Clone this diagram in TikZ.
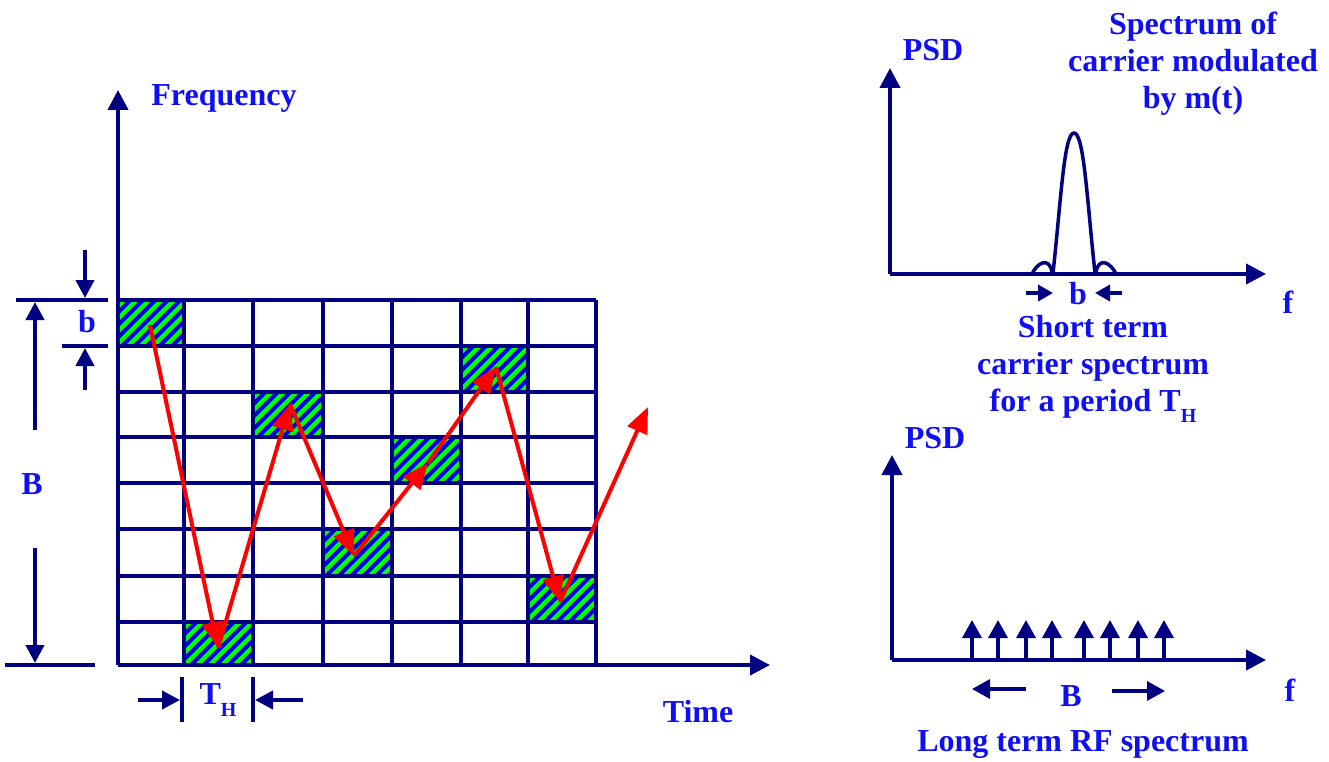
\documentclass[tikz,border=0pt]{standalone}
\usepackage{fontspec}
\setmainfont{Liberation Serif}
\usetikzlibrary{arrows.meta}
\definecolor{navy}{RGB}{0,0,128}
\definecolor{txtblue}{RGB}{15,15,245}
\definecolor{hgreen}{RGB}{0,255,0}
\definecolor{hblue}{RGB}{0,0,230}
\newcommand{\THsub}{T\raisebox{-0.35em}{\fontsize{20}{20}\selectfont H}}
\tikzset{
  lbl/.style={text=txtblue,font=\fontsize{32}{37}\selectfont\bfseries,inner sep=0pt,align=center},
  gridline/.style={navy,line width=3.2pt},
  axis/.style={navy,line width=4pt,-{Triangle[length=20pt,width=20pt]}},
  dimline/.style={navy,line width=4pt},
  dimarrow/.style={navy,line width=4pt,-{Triangle[length=18pt,width=18pt]}},
  smallarrow/.style={navy,line width=3.5pt,-{Triangle[length=18pt,width=19pt]}},
  hop/.style={red,line width=4pt,-{Triangle[length=26pt,width=21pt]}},
  spec/.style={navy,line width=3.5pt},
}
\begin{document}
\begin{tikzpicture}[x=1pt,y=-1pt]
\useasboundingbox (0,0) rectangle (1329,762);
% hatched cells: (left,top,right,bottom)
\foreach \l/\t/\r/\b in {118/300/184/346, 184/622/253/665, 253/392/323/437, 323/529/392/576, 392/437/461/483, 461/346/528/392, 528/576/596/622}{
  \fill[hgreen] (\l,\t) rectangle (\r,\b);
  \begin{scope}
    \clip (\l,\t) rectangle (\r,\b);
    \pgfmathsetmacro{\hh}{\b-\t}
    \foreach \k in {0,...,11}{
      \pgfmathsetmacro{\xs}{\l-\hh+\k*12.5}
      \draw[hblue,line width=4pt] (\xs,\b) -- ++(\hh,-\hh);
    }
  \end{scope}
}
% grid
\foreach \x in {184,253,323,392,461,528,596}{ \draw[gridline] (\x,300) -- (\x,665); }
\foreach \y in {300,346,392,437,483,529,576,622}{ \draw[gridline] (118,\y) -- (596,\y); }
% axes
\coordinate (O) at (118,665);
\coordinate (Ytop) at (118,90);
\coordinate (Xend) at (770,665);
\draw[axis] (O) -- (Ytop);
\draw[axis] (O) -- (Xend);
\node[lbl] (freq) at (224,98) {Frequency};
\node[lbl] (time) at (698,712) {Time};
% B dimension
\draw[dimline] (16,300) -- (108,300);
\draw[dimline] (5,665) -- (95,665);
\coordinate (Btop) at (35,302); \coordinate (Bbot) at (35,663);
\draw[dimarrow] (35,430) -- (Btop);
\draw[dimarrow] (35,548) -- (Bbot);
\node[lbl] (Blab) at (32,484) {B};
% b dimension
\draw[dimline] (62,346) -- (108,346);
\draw[dimarrow] (85,250) -- (85,298);
\draw[dimarrow] (85,390) -- (85,348);
\node[lbl] (blab) at (87,322) {b};
% T_H dimension
\draw[dimline] (182,677) -- (182,722);
\draw[dimline] (253,677) -- (253,722);
\draw[dimarrow] (138,700) -- (180,700);
\draw[dimarrow] (303,700) -- (255,700);
\node[lbl] (THlab) at (218,700) {\THsub};
% hopping path
\coordinate (h1) at (150,325);
\coordinate (h2) at (218,648);
\coordinate (h3) at (290,404);
\coordinate (h4) at (354,556);
\coordinate (h5) at (428,463);
\coordinate (h6) at (496,367);
\coordinate (h7) at (560,602);
\coordinate (h8) at (648,407);
\draw[hop] (h1) -- (h2);
\draw[hop] (h2) -- (h3);
\draw[hop] (h3) -- (h4);
\draw[hop] (h4) -- (h5);
\draw[hop] (h5) -- (h6);
\draw[hop] (h6) -- (h7);
\draw[hop] (h7) -- (h8);
% top-right PSD
\coordinate (P1) at (890,274);
\draw[axis] (P1) -- (890,68);
\draw[axis] (P1) -- (1266,274);
\node[lbl] (psd1) at (933,50) {PSD};
\node[lbl] (f1) at (1288,302) {f};
\draw[spec,line cap=round] (1053,273) .. controls (1061,200) and (1064,133) .. (1074,133) .. controls (1084,133) and (1087,200) .. (1095,273);
\draw[spec] (1032,274) .. controls (1037,263) and (1049,256) .. (1052,272);
\draw[spec] (1096,272) .. controls (1099,256) and (1111,263) .. (1116,274);
\draw[smallarrow,-{Triangle[length=15pt,width=16pt]}] (1026,293) -- (1053,293);
\draw[smallarrow,-{Triangle[length=15pt,width=16pt]}] (1122,293) -- (1095,293);
\node[lbl] (b2) at (1078,294) {b};
\node[lbl] (short) at (1093,369) {Short term\\carrier spectrum\\for a period \THsub};
\node[lbl] (mod) at (1193,64) {Spectrum of\\carrier modulated\\by m(t)};
% bottom-right PSD
\coordinate (P2) at (892,660);
\draw[axis] (P2) -- (892,455);
\draw[axis] (P2) -- (1266,660);
\node[lbl] (psd2) at (935,438) {PSD};
\node[lbl] (f2) at (1290,690) {f};
\foreach \x in {972,998,1026,1052,1084,1110,1138,1164}{
  \draw[smallarrow] (\x,660) -- (\x,620);
}
\draw[smallarrow] (1026,689) -- (972,689);
\draw[smallarrow] (1112,691) -- (1165,691);
\node[lbl] (B2) at (1071,696) {B};
\node[lbl] (long) at (1083,745) {Long term RF spectrum};
\end{tikzpicture}
\end{document}
